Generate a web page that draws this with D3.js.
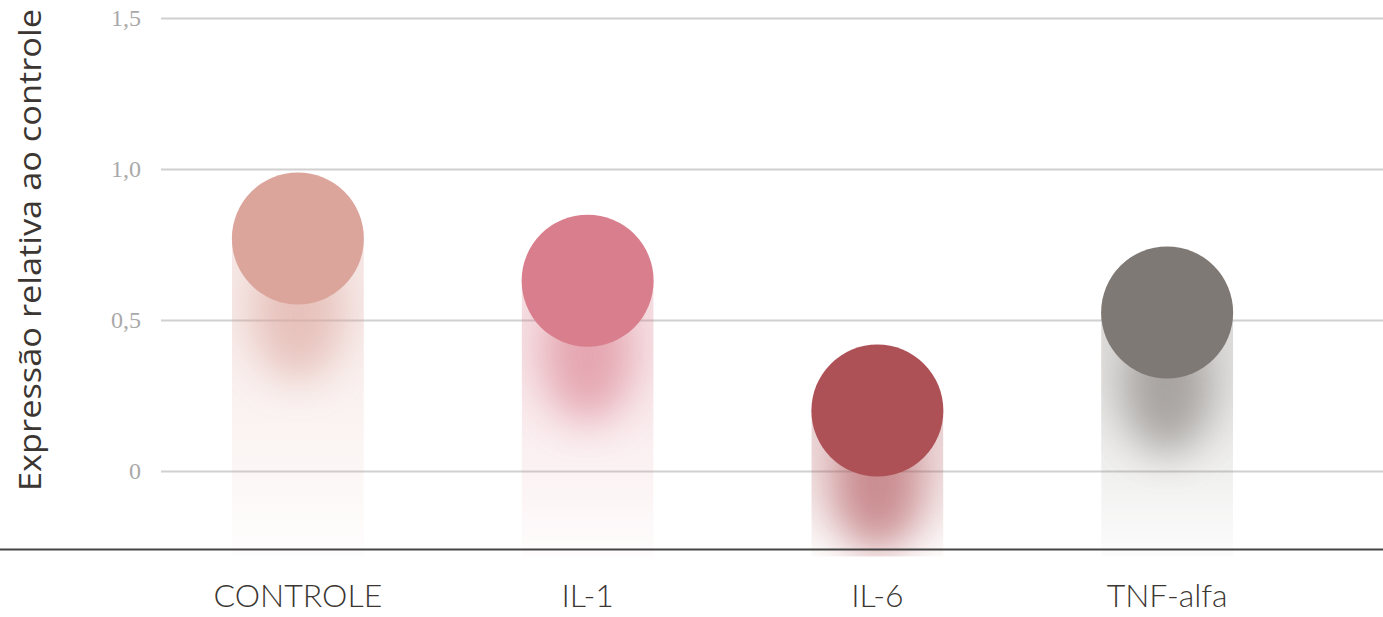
<!DOCTYPE html>
<html>
<head>
<meta charset="utf-8">
<script src="https://cdn.jsdelivr.net/npm/d3@7"></script>
<style>
  body { margin: 0; background: #fff; }
  .tick text { font-family: "Liberation Serif", serif; font-size: 24px; fill: #a9a9a9; }
  .tick line { stroke: #d0d0d0; stroke-width: 2; }
  .domain { display: none; }
</style>
</head>
<body>
<div id="chart"></div>
<script>
var width = 1383,
    height = 617;

var categories = ["CONTROLE", "IL-1", "IL-6", "TNF-alfa"];
var values = [0.77, 0.63, 0.2, 0.525];
var colors = ["#dca59c", "#d97e8d", "#ae5156", "#7f7975"];
var tickValues = [0, 0.5, 1, 1.5];
var tickLabels = ["0", "0,5", "1,0", "1,5"];

var radius = 66,
    axisY = 549.5;

var x = d3.scaleBand()
    .domain(categories)
    .range([153, 1312]);

var y = d3.scaleLinear()
    .domain([-0.26, 1.5])
    .range([axisY, 18]);

var svg = d3.select("#chart").append("svg")
    .attr("width", width)
    .attr("height", height);

var defs = svg.append("defs");

defs.append("filter")
    .attr("id", "blur")
    .attr("x", "-100%").attr("y", "-100%")
    .attr("width", "300%").attr("height", "300%")
  .append("feGaussianBlur")
    .attr("stdDeviation", 20);

categories.forEach(function (c, i) {
  var g = defs.append("linearGradient")
      .attr("id", "col" + i)
      .attr("x1", 0).attr("y1", 0).attr("x2", 0).attr("y2", 1);
  g.append("stop").attr("offset", "0%").attr("stop-color", colors[i]).attr("stop-opacity", 0.28);
  g.append("stop").attr("offset", "100%").attr("stop-color", colors[i]).attr("stop-opacity", 0.02);

  defs.append("clipPath")
      .attr("id", "clip" + i)
    .append("rect")
      .attr("x", x(c) + x.bandwidth() / 2 - radius)
      .attr("y", y(values[i]))
      .attr("width", radius * 2)
      .attr("height", axisY + 7 - y(values[i]));
});

// gridlines + tick labels
svg.append("g")
    .attr("transform", "translate(161,0)")
    .call(d3.axisLeft(y)
        .tickValues(tickValues)
        .tickFormat(function (d, i) { return tickLabels[i]; })
        .tickSize(-(width - 161))
        .tickPadding(20));

// shadow columns
var cols = svg.append("g").selectAll("g")
    .data(categories)
    .enter()
    .append("g")
    .attr("clip-path", function (d, i) { return "url(#clip" + i + ")"; });

cols.append("rect")
    .attr("x", function (d) { return x(d) + x.bandwidth() / 2 - radius; })
    .attr("y", function (d, i) { return y(values[i]); })
    .attr("width", radius * 2)
    .attr("height", function (d, i) { return axisY + 7 - y(values[i]); })
    .attr("fill", function (d, i) { return "url(#col" + i + ")"; });

cols.append("ellipse")
    .attr("cx", function (d) { return x(d) + x.bandwidth() / 2; })
    .attr("cy", function (d, i) { return y(values[i]) + radius + 10; })
    .attr("rx", 45)
    .attr("ry", 65)
    .attr("fill", function (d, i) { return colors[i]; })
    .attr("opacity", 0.6)
    .attr("filter", "url(#blur)");

// circles
svg.append("g").selectAll("circle")
    .data(categories)
    .enter()
    .append("circle")
    .attr("cx", function (d) { return x(d) + x.bandwidth() / 2; })
    .attr("cy", function (d, i) { return y(values[i]); })
    .attr("r", radius)
    .attr("fill", function (d, i) { return colors[i]; });

// bottom axis line
svg.append("line")
    .attr("x1", 0).attr("x2", width)
    .attr("y1", axisY).attr("y2", axisY)
    .attr("stroke", "#444")
    .attr("stroke-width", 2);

// category labels
svg.append("g").selectAll("text")
    .data(categories)
    .enter()
    .append("text")
    .attr("x", function (d) { return x(d) + x.bandwidth() / 2; })
    .attr("y", 607)
    .attr("text-anchor", "middle")
    .style("font-family", "Lato, sans-serif")
    .style("font-weight", 300)
    .style("font-size", "32px")
    .style("fill", "#3b3632")
    .text(function (d) { return d; });

// y title
svg.append("text")
    .attr("transform", "translate(41,250) rotate(-90)")
    .attr("text-anchor", "middle")
    .attr("textLength", 482)
    .attr("lengthAdjust", "spacingAndGlyphs")
    .style("font-family", "'Open Sans', sans-serif")
    .style("font-size", "31px")
    .style("fill", "#3b3632")
    .text("Expressão relativa ao controle");
</script>
</body>
</html>
